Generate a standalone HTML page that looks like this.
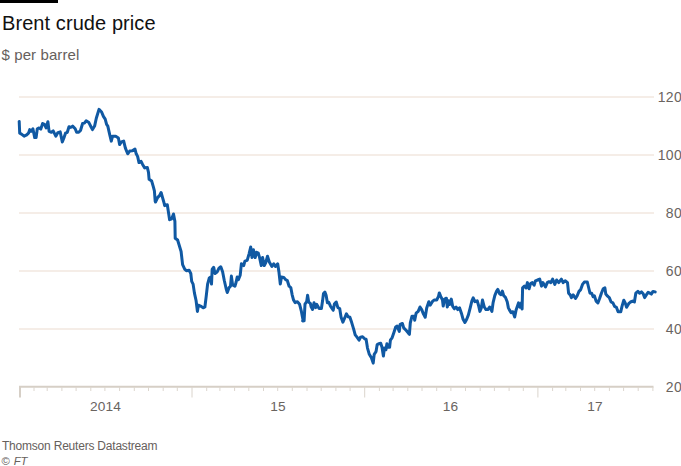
<!DOCTYPE html>
<html><head><meta charset="utf-8">
<style>
html,body{margin:0;padding:0;background:#fff;}
body{width:681px;height:466px;overflow:hidden;position:relative;font-family:"Liberation Sans",sans-serif;}
.bar{position:absolute;left:0;top:0;width:58px;height:3.4px;background:#000;}
.t{position:absolute;white-space:nowrap;line-height:1;}
#title{left:2px;top:13px;font-size:20px;color:#111;letter-spacing:0.08px;}
#sub{left:1.5px;top:47px;font-size:15px;color:#66605c;letter-spacing:0.1px;}
.yl{position:absolute;right:-1px;width:40px;text-align:right;font-size:14px;color:#6a645f;line-height:1;letter-spacing:0.3px;}
.xl{position:absolute;font-size:13.7px;color:#6a645f;line-height:1;top:400px;transform:translateX(-50%);letter-spacing:0.2px;}
#src{left:2px;top:440px;font-size:12px;color:#66605c;letter-spacing:-0.21px;}
#ft{left:1.5px;top:455.5px;font-size:11.3px;color:#66605c;word-spacing:0.7px;}
svg{position:absolute;left:0;top:0;}
</style></head><body>
<div class="bar"></div>
<div class="t" id="title">Brent crude price</div>
<div class="t" id="sub">$ per barrel</div>
<svg width="681" height="466" viewBox="0 0 681 466">
<g stroke="#f5ede7" stroke-width="2" fill="none">
<line x1="19" y1="97" x2="654" y2="97"/>
<line x1="19" y1="155" x2="654" y2="155"/>
<line x1="19" y1="213" x2="654" y2="213"/>
<line x1="19" y1="271" x2="654" y2="271"/>
<line x1="19" y1="329" x2="654" y2="329"/>
</g>
<g stroke="#d6cfc6" stroke-width="1" fill="none">
<line x1="19" y1="386.8" x2="653.5" y2="386.8" stroke-width="2"/>
<line x1="20" y1="386" x2="20" y2="397.5" stroke-width="2"/><line x1="34.0" y1="387" x2="34.0" y2="391" stroke="#dcd6ce"/><line x1="47.2" y1="387" x2="47.2" y2="391" stroke="#dcd6ce"/><line x1="61.9" y1="387" x2="61.9" y2="391" stroke="#dcd6ce"/><line x1="76.1" y1="387" x2="76.1" y2="391" stroke="#dcd6ce"/><line x1="90.8" y1="387" x2="90.8" y2="391" stroke="#dcd6ce"/><line x1="104.9" y1="387" x2="104.9" y2="391" stroke="#dcd6ce"/><line x1="119.6" y1="387" x2="119.6" y2="391" stroke="#dcd6ce"/><line x1="134.3" y1="387" x2="134.3" y2="391" stroke="#dcd6ce"/><line x1="148.5" y1="387" x2="148.5" y2="391" stroke="#dcd6ce"/><line x1="163.2" y1="387" x2="163.2" y2="391" stroke="#dcd6ce"/><line x1="177.3" y1="387" x2="177.3" y2="391" stroke="#dcd6ce"/><line x1="192.0" y1="387" x2="192.0" y2="397.5" stroke="#dad4cc"/><line x1="206.7" y1="387" x2="206.7" y2="391" stroke="#dcd6ce"/><line x1="219.9" y1="387" x2="219.9" y2="391" stroke="#dcd6ce"/><line x1="234.6" y1="387" x2="234.6" y2="391" stroke="#dcd6ce"/><line x1="248.8" y1="387" x2="248.8" y2="391" stroke="#dcd6ce"/><line x1="263.5" y1="387" x2="263.5" y2="391" stroke="#dcd6ce"/><line x1="277.7" y1="387" x2="277.7" y2="391" stroke="#dcd6ce"/><line x1="292.3" y1="387" x2="292.3" y2="391" stroke="#dcd6ce"/><line x1="307.0" y1="387" x2="307.0" y2="391" stroke="#dcd6ce"/><line x1="321.2" y1="387" x2="321.2" y2="391" stroke="#dcd6ce"/><line x1="335.9" y1="387" x2="335.9" y2="391" stroke="#dcd6ce"/><line x1="350.1" y1="387" x2="350.1" y2="391" stroke="#dcd6ce"/><line x1="364.7" y1="387" x2="364.7" y2="397.5" stroke="#dad4cc"/><line x1="379.4" y1="387" x2="379.4" y2="391" stroke="#dcd6ce"/><line x1="393.1" y1="387" x2="393.1" y2="391" stroke="#dcd6ce"/><line x1="407.8" y1="387" x2="407.8" y2="391" stroke="#dcd6ce"/><line x1="422.0" y1="387" x2="422.0" y2="391" stroke="#dcd6ce"/><line x1="436.7" y1="387" x2="436.7" y2="391" stroke="#dcd6ce"/><line x1="450.9" y1="387" x2="450.9" y2="391" stroke="#dcd6ce"/><line x1="465.5" y1="387" x2="465.5" y2="391" stroke="#dcd6ce"/><line x1="480.2" y1="387" x2="480.2" y2="391" stroke="#dcd6ce"/><line x1="494.4" y1="387" x2="494.4" y2="391" stroke="#dcd6ce"/><line x1="509.1" y1="387" x2="509.1" y2="391" stroke="#dcd6ce"/><line x1="523.3" y1="387" x2="523.3" y2="391" stroke="#dcd6ce"/><line x1="537.9" y1="387" x2="537.9" y2="397.5" stroke="#dad4cc"/><line x1="552.6" y1="387" x2="552.6" y2="391" stroke="#dcd6ce"/><line x1="565.8" y1="387" x2="565.8" y2="391" stroke="#dcd6ce"/><line x1="580.5" y1="387" x2="580.5" y2="391" stroke="#dcd6ce"/><line x1="594.7" y1="387" x2="594.7" y2="391" stroke="#dcd6ce"/><line x1="609.4" y1="387" x2="609.4" y2="391" stroke="#dcd6ce"/><line x1="623.6" y1="387" x2="623.6" y2="391" stroke="#dcd6ce"/><line x1="638.2" y1="387" x2="638.2" y2="391" stroke="#dcd6ce"/><line x1="652.9" y1="387" x2="652.9" y2="391" stroke="#dcd6ce"/>
</g>
<path d="M19.2,121.4 L19.7,133.2 L21.5,134.1 L24.1,136.2 L26.7,134.9 L28.5,133.2 L29.7,129.6 L31.1,131.4 L32.9,128.8 L34.7,137.6 L36.1,137.6 L37.3,128.8 L39.1,127.9 L40.8,129.1 L42.6,123.5 L44.4,124.4 L46.1,127.9 L47.9,121.7 L49.1,131.4 L51.4,132.3 L53.2,130.9 L55.8,136.2 L57.9,132.6 L60.2,131.9 L62.3,142.0 L63.7,138.5 L65.5,133.2 L67.3,132.3 L69.0,126.7 L70.8,127.4 L72.6,126.1 L75.2,128.8 L76.6,132.3 L78.7,132.3 L80.5,130.5 L82.6,123.5 L84.4,123.1 L86.1,120.8 L88.9,122.6 L91.1,127.0 L92.5,129.6 L94.6,126.1 L96.3,118.2 L99.0,109.4 L101.6,112.0 L103.4,116.4 L105.2,119.1 L106.6,124.4 L107.8,126.1 L109.6,134.1 L111.3,141.1 L112.6,136.2 L115.7,136.2 L118.4,137.9 L119.6,144.6 L121.4,142.0 L123.7,141.1 L125.4,148.1 L127.7,153.8 L129.7,151.1 L132.3,150.8 L135.0,149.0 L136.2,153.8 L137.6,156.4 L139.0,162.6 L141.1,161.4 L142.6,164.4 L144.7,167.9 L147.3,167.4 L148.5,172.3 L149.1,179.3 L151.7,181.1 L153.5,187.3 L154.4,190.8 L155.2,201.4 L155.5,202.0 L157.6,197.6 L159.7,195.4 L161.1,192.5 L162.2,196.4 L163.8,202.0 L164.7,205.6 L167.3,204.7 L168.5,212.6 L169.6,219.7 L171.7,218.8 L173.5,214.0 L174.9,221.4 L175.2,238.2 L177.6,240.0 L181.1,251.5 L182.6,264.7 L184.7,269.1 L186.4,270.8 L189.1,270.3 L190.8,273.5 L191.7,281.4 L193.1,284.1 L194.4,292.9 L196.1,300.8 L197.4,311.4 L198.4,305.2 L200.5,306.1 L203.2,307.8 L204.9,307.0 L206.2,296.4 L207.6,284.1 L209.3,277.9 L210.7,277.0 L211.5,284.1 L212.2,269.1 L213.7,267.3 L215.0,273.5 L217.3,271.7 L219.0,268.2 L220.8,266.8 L222.6,271.7 L224.3,280.5 L226.1,288.5 L227.3,292.5 L229.1,287.6 L230.5,286.2 L231.4,276.1 L232.6,284.9 L234.9,286.2 L236.1,282.3 L237.2,277.0 L238.4,279.6 L240.2,275.2 L241.4,263.8 L243.7,265.6 L244.9,261.1 L247.2,260.3 L249.0,254.1 L250.7,247.0 L252.0,257.6 L253.4,249.7 L255.2,257.6 L256.6,252.3 L258.3,253.2 L259.6,257.6 L261.3,265.6 L262.6,257.6 L264.3,265.6 L265.7,262.9 L267.5,256.2 L269.3,262.0 L271.9,266.4 L273.7,263.8 L275.4,266.4 L277.7,263.8 L278.9,271.7 L280.3,284.1 L281.5,277.0 L283.8,277.4 L285.6,279.6 L287.3,280.5 L289.1,286.2 L290.8,287.6 L292.1,294.6 L293.5,299.9 L295.2,302.6 L297.4,301.7 L299.6,304.3 L301.4,311.4 L303.2,321.1 L302.7,320.8 L304.1,320.8 L305.0,304.1 L306.7,301.5 L307.6,295.3 L308.7,302.3 L310.3,303.2 L311.1,306.7 L312.6,309.4 L314.0,302.7 L315.6,307.6 L316.8,304.4 L319.1,308.5 L321.4,308.5 L322.6,300.6 L323.5,293.5 L324.9,292.1 L326.1,295.3 L327.4,302.7 L328.8,302.3 L330.5,306.2 L333.2,310.3 L334.4,304.1 L336.2,302.0 L337.9,307.6 L339.7,308.5 L341.1,317.3 L342.9,322.1 L344.6,318.2 L346.4,313.8 L348.1,316.8 L349.9,317.3 L351.7,322.6 L353.8,329.6 L355.2,334.9 L357.0,337.2 L359.1,340.2 L360.5,337.2 L362.6,336.7 L364.9,339.0 L366.1,339.3 L367.5,348.1 L369.3,354.3 L371.4,357.8 L373.2,363.1 L374.2,354.3 L376.0,351.7 L377.2,344.6 L379.0,343.7 L380.7,343.2 L382.0,347.3 L383.4,356.1 L384.4,348.1 L386.0,349.6 L386.9,343.7 L388.3,347.3 L389.6,347.3 L390.4,340.2 L392.2,337.6 L394.0,332.3 L395.7,327.0 L397.1,326.1 L399.3,331.4 L400.1,324.4 L402.4,323.5 L403.7,327.9 L406.3,330.5 L408.4,333.2 L409.4,334.3 L410.3,322.9 L412.0,316.2 L413.8,316.2 L414.7,320.2 L416.1,313.2 L418.2,311.4 L420.0,307.0 L421.7,309.6 L423.5,314.1 L425.2,317.2 L426.7,307.9 L428.8,301.7 L430.2,305.2 L432.3,301.7 L434.1,300.0 L436.7,300.0 L438.5,296.4 L439.3,292.9 L440.7,296.4 L442.5,300.0 L443.2,306.1 L444.6,299.1 L446.4,298.2 L447.3,307.0 L448.5,300.8 L449.9,304.4 L451.3,299.1 L452.6,306.1 L454.3,308.8 L456.1,307.0 L457.8,309.6 L459.6,307.9 L461.4,313.2 L463.1,319.3 L464.9,322.5 L466.7,319.3 L468.4,314.9 L470.2,307.9 L471.9,300.8 L473.2,297.8 L474.9,301.7 L477.2,300.8 L478.5,305.2 L479.9,311.4 L481.3,307.9 L482.5,300.0 L484.3,307.0 L486.0,309.6 L487.8,309.6 L489.6,307.0 L491.9,311.4 L493.1,302.6 L494.8,295.6 L496.6,291.1 L497.8,289.4 L499.6,293.8 L501.0,294.7 L502.4,291.1 L503.7,295.6 L505.4,297.3 L507.2,301.7 L508.4,307.9 L509.4,309.9 L511.1,312.6 L512.9,311.7 L514.7,317.0 L516.1,309.9 L517.3,306.4 L518.5,302.9 L520.0,307.3 L521.4,302.9 L522.1,309.0 L522.6,287.9 L524.4,286.1 L526.1,287.9 L527.4,282.6 L529.1,288.8 L530.5,283.5 L532.3,282.6 L534.1,285.2 L535.5,280.8 L537.6,280.0 L539.7,279.1 L541.5,286.1 L542.9,282.6 L545.5,287.0 L547.3,282.6 L549.0,281.7 L550.8,282.6 L552.6,279.1 L554.8,284.4 L556.6,280.0 L558.7,282.6 L561.4,279.1 L563.1,282.6 L565.4,280.8 L567.5,282.6 L568.6,293.2 L570.2,294.9 L571.4,297.6 L573.2,294.9 L575.5,298.5 L577.2,295.8 L579.0,291.4 L580.7,289.6 L582.5,284.4 L584.3,282.1 L587.3,282.1 L588.5,287.0 L590.0,293.2 L591.7,293.2 L593.1,296.7 L594.4,295.8 L596.1,301.1 L597.9,302.9 L599.6,298.5 L601.4,293.2 L603.2,288.8 L604.9,287.9 L605.8,294.1 L607.6,296.2 L609.3,297.6 L611.1,302.0 L612.9,302.9 L614.6,306.4 L616.4,307.3 L618.1,311.7 L620.8,311.7 L622.0,306.4 L623.8,300.2 L625.2,302.9 L626.6,307.3 L628.7,303.7 L630.5,302.0 L632.6,301.1 L634.4,302.0 L635.8,293.2 L637.9,291.4 L639.6,293.2 L641.4,291.9 L643.2,293.7 L644.6,297.6 L646.3,294.9 L648.1,292.3 L649.9,293.2 L651.3,294.1 L653.0,291.4 L655.2,291.9" fill="none" stroke="#1059a3" stroke-width="3" stroke-linejoin="round" stroke-linecap="round"/>
</svg>
<div class="yl" style="top:90.4px">120</div>
<div class="yl" style="top:148.4px">100</div>
<div class="yl" style="top:206.4px">80</div>
<div class="yl" style="top:264.4px">60</div>
<div class="yl" style="top:322.4px">40</div>
<div class="yl" style="top:380.4px">20</div>
<div class="xl" style="left:105.5px">2014</div>
<div class="xl" style="left:278px">15</div>
<div class="xl" style="left:450.5px">16</div>
<div class="xl" style="left:595px">17</div>
<div class="t" id="src">Thomson Reuters Datastream</div>
<div class="t" id="ft">© <i>FT</i></div>
</body></html>
